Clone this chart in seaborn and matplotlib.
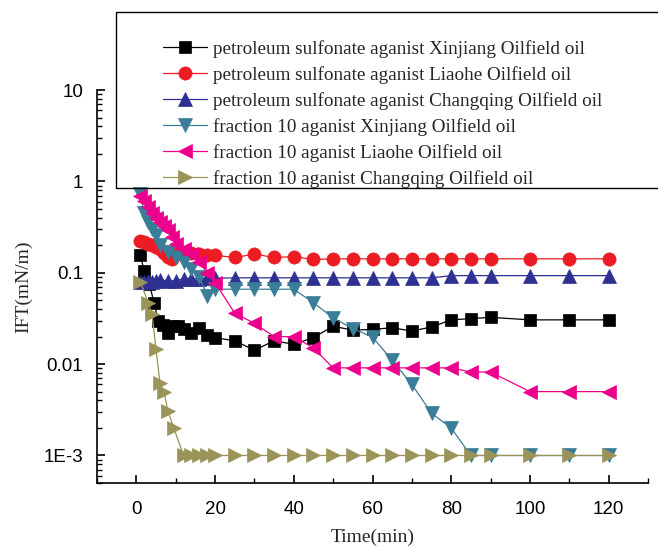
import matplotlib
matplotlib.use('Agg')
import matplotlib.pyplot as plt
import matplotlib.ticker as mticker
from matplotlib.patches import Rectangle
import pandas as pd
import seaborn as sns

# data (time in min, IFT in mN/m)
t_ps_xj = [1, 2, 3.3, 4.5, 5.5, 6.8, 8, 9.3, 10.5, 12, 14, 16, 18, 20, 25, 30, 35, 40, 45, 50,
           55, 60, 65, 70, 75, 80, 85, 90, 100, 110, 120]
ift_ps_xj = [0.155, 0.105, 0.075, 0.047, 0.030, 0.027, 0.022, 0.026, 0.026, 0.024, 0.022, 0.025,
             0.021, 0.0195, 0.018, 0.0142, 0.018, 0.0165, 0.0195, 0.026, 0.0235, 0.024, 0.025,
             0.023, 0.0255, 0.0305, 0.0315, 0.0325, 0.0305, 0.0305, 0.0305]

t_ps_lh = [1, 2, 3, 4, 5, 6, 7, 8, 9, 10, 12, 14, 16, 18, 20, 25, 30, 35, 40, 45, 50, 55, 60,
           65, 70, 75, 80, 85, 90, 100, 110, 120]
ift_ps_lh = [0.22, 0.215, 0.205, 0.20, 0.19, 0.18, 0.165, 0.15, 0.14, 0.16, 0.165, 0.163, 0.16,
             0.155, 0.155, 0.147, 0.16, 0.147, 0.15, 0.14, 0.142, 0.142, 0.142, 0.142, 0.142,
             0.142, 0.142, 0.142, 0.142, 0.142, 0.142, 0.142]

t_ps_cq = [1, 2, 3, 4, 5, 6, 8, 10, 12, 14, 16, 18, 20, 25, 30, 35, 40, 45, 50, 55, 60, 65, 70,
           75, 80, 85, 90, 100, 110, 120]
ift_ps_cq = [0.079, 0.08, 0.082, 0.08, 0.081, 0.083, 0.082, 0.082, 0.086, 0.086, 0.086, 0.087,
             0.087, 0.088, 0.088, 0.088, 0.088, 0.088, 0.088, 0.088, 0.088, 0.088, 0.088, 0.088,
             0.093, 0.093, 0.093, 0.093, 0.093, 0.093]

t_f10_xj = [1, 2, 3, 4, 5, 6, 8, 10, 12, 14, 16, 18, 20, 25, 30, 35, 40, 45, 50, 55, 60, 65, 70,
            75, 80, 85, 90, 100, 110, 120]
ift_f10_xj = [0.72, 0.45, 0.36, 0.30, 0.26, 0.20, 0.17, 0.15, 0.13, 0.11, 0.09, 0.056, 0.066,
              0.066, 0.066, 0.066, 0.066, 0.047, 0.032, 0.0245, 0.0198, 0.011, 0.006, 0.0029,
              0.002, 0.001, 0.001, 0.001, 0.001, 0.001]

t_f10_lh = [1, 2, 3, 4, 5, 6, 7, 8, 9, 10, 12, 14, 16, 18, 20, 25, 30, 35, 40, 45, 50, 55, 60,
            65, 70, 75, 80, 85, 90, 100, 110, 120]
ift_f10_lh = [0.69, 0.61, 0.52, 0.455, 0.40, 0.355, 0.325, 0.29, 0.245, 0.205, 0.18, 0.16, 0.13,
              0.10, 0.078, 0.036, 0.028, 0.020, 0.020, 0.015, 0.0091, 0.0091, 0.0091, 0.0091,
              0.0091, 0.0091, 0.0091, 0.0082, 0.0082, 0.005, 0.005, 0.005]

t_f10_cq = [1, 3, 4, 5, 6, 7, 8, 9.5, 12, 14, 16, 18, 20, 25, 30, 35, 40, 45, 50, 55, 60, 65, 70,
            75, 80, 85, 90, 100, 110, 120]
ift_f10_cq = [0.08, 0.047, 0.035, 0.0145, 0.0062, 0.005, 0.0031, 0.002, 0.001, 0.001, 0.001,
              0.001, 0.001, 0.001, 0.001, 0.001, 0.001, 0.001, 0.001, 0.001, 0.001, 0.001, 0.001,
              0.001, 0.001, 0.001, 0.001, 0.001, 0.001, 0.001]

labels = [
    'petroleum sulfonate aganist Xinjiang Oilfield oil',
    'petroleum sulfonate aganist Liaohe Oilfield oil',
    'petroleum sulfonate aganist Changqing Oilfield oil',
    'fraction 10 aganist Xinjiang Oilfield oil',
    'fraction 10 aganist Liaohe Oilfield oil',
    'fraction 10 aganist Changqing Oilfield oil',
]
y_ticks = [1e-3, 1e-2, 0.1, 1, 10]
y_ticklabels = ['1E-3', '0.01', '0.1', '1', '10']
x_ticks = [0, 20, 40, 60, 80, 100, 120]

series = [
    (t_ps_xj, ift_ps_xj, 's', '#000000', 8.5),
    (t_ps_lh, ift_ps_lh, 'o', '#ED1C24', 9.5),
    (t_ps_cq, ift_ps_cq, '^', '#2E3192', 10),
    (t_f10_xj, ift_f10_xj, 'v', '#3A7D98', 10),
    (t_f10_lh, ift_f10_lh, '<', '#EC008C', 10),
    (t_f10_cq, ift_f10_cq, '>', '#9A9459', 10),
]

sns.set_style('ticks')
plt.rcParams['font.family'] = ['Liberation Serif', 'DejaVu Serif']

fig = plt.figure(figsize=(6.58, 5.47), dpi=100)
ax = fig.add_axes([97 / 658, 1 - 483 / 547, 551 / 658, 393 / 547])

for (t, v, m, c, ms), lab in zip(series, labels):
    df = pd.DataFrame({'t': t, 'v': v})
    sns.lineplot(data=df, x='t', y='v', ax=ax, color=c, marker=m, markersize=ms,
                 markeredgecolor=c, markeredgewidth=0.5, linewidth=0.9, label=lab, legend=False)

ax.set_yscale('log')
ax.set_xlim(-10, 130)
ax.set_ylim(5e-4, 10)
ax.yaxis.set_major_locator(mticker.FixedLocator(y_ticks))
ax.yaxis.set_major_formatter(mticker.FixedFormatter(y_ticklabels))
ax.yaxis.set_minor_locator(mticker.LogLocator(base=10, subs=range(2, 10), numticks=20))
ax.yaxis.set_minor_formatter(mticker.NullFormatter())
ax.set_xticks(x_ticks)
ax.xaxis.set_minor_locator(mticker.MultipleLocator(10))

for s in ['top', 'right']:
    ax.spines[s].set_visible(False)
for s in ['left', 'bottom']:
    ax.spines[s].set_linewidth(1.2)
    ax.spines[s].set_color('black')

ax.tick_params(which='major', direction='in', length=6, width=1.2, colors='black', pad=10)
ax.tick_params(axis='x', which='major', pad=13)
ax.tick_params(which='minor', direction='in', length=3.5, width=1.0, colors='black')
for lbl in ax.get_xticklabels() + ax.get_yticklabels():
    lbl.set_family(['Liberation Sans', 'DejaVu Sans'])
    lbl.set_fontsize(13.5)

ax.set_xlabel('Time(min)', fontsize=14, labelpad=8)
ax.set_ylabel('IFT(mN/m)', fontsize=14, labelpad=8)

handles, labs = ax.get_legend_handles_labels()
fig.legend(handles, labs, loc='upper left', bbox_to_anchor=(163 / 658, 1 - 40 / 547),
           frameon=False, fontsize=13.8, handlelength=2.3, handletextpad=0.3,
           labelspacing=0.42, borderpad=0, borderaxespad=0)
fig.patches.append(Rectangle((116 / 658, 1 - 188 / 547), 700 / 658, 176 / 547,
                             transform=fig.transFigure, fill=False, edgecolor='black',
                             linewidth=1.0, facecolor='none'))

fig.savefig('out.png', dpi=100)
